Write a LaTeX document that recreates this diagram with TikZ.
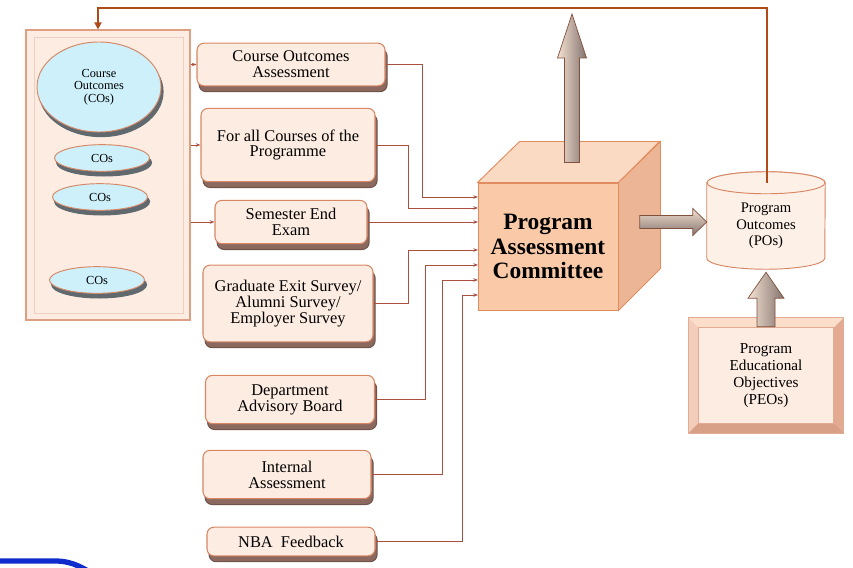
\documentclass[tikz,border=0pt]{standalone}
\usepackage{fontspec}
\setmainfont{Liberation Serif}
\usetikzlibrary{positioning,calc,shadows,arrows.meta,shapes.geometric}
\definecolor{BoxFill}{RGB}{253,236,225}
\definecolor{BoxEdge}{RGB}{215,135,100}
\definecolor{BoxShade}{RGB}{140,105,95}
\definecolor{LineRed}{RGB}{170,80,65}
\definecolor{TopLine}{RGB}{175,75,25}
\definecolor{CubeFront}{RGB}{250,202,168}
\definecolor{CubeTop}{RGB}{250,218,195}
\definecolor{CubeSide}{RGB}{236,182,150}
\definecolor{CubeEdge}{RGB}{225,140,95}
\definecolor{EllFill}{RGB}{205,240,250}
\definecolor{EllShade}{RGB}{95,105,110}
\definecolor{ArrowLight}{RGB}{245,225,210}
\definecolor{ArrowDark}{RGB}{130,115,110}
\definecolor{CylFill}{RGB}{253,240,230}
\definecolor{BevTop}{RGB}{250,222,202}
\definecolor{BevLeft}{RGB}{243,205,185}
\definecolor{BevRight}{RGB}{225,170,145}
\definecolor{BevBot}{RGB}{215,160,135}
\definecolor{NavyBlue}{RGB}{15,45,205}
\tikzset{
  abox/.style={draw=BoxEdge,fill=BoxFill,line width=0.9pt,rounded corners=6pt,align=center,inner sep=1pt,
    font=\fontsize{14}{13.5}\selectfont,
    copy shadow={shadow xshift=1.8pt,shadow yshift=-5pt,fill=BoxShade,draw=BoxShade!80!black}},
  cos/.style={ellipse,draw=BoxEdge,fill=EllFill,line width=0.8pt,inner sep=0pt,align=center,
    font=\fontsize{10.5}{10.5}\selectfont,
    copy shadow={shadow xshift=1.8pt,shadow yshift=-4pt,fill=EllShade,draw=EllShade}},
  feed/.style={draw=LineRed,line width=0.8pt,-{Stealth[length=4pt,width=3pt]}},
  fback/.style={draw=TopLine,line width=1.8pt,-{Triangle[length=6pt,width=6pt]}},
  blockarrow/.style={draw=BoxEdge!60!black,line width=0.6pt},
  cyl/.style={draw=BoxEdge,fill=CylFill,line width=0.8pt},
}
\tikzset{smallcos/.style={cos,minimum width=2.85cm,minimum height=0.8cm},
  peo/.style={draw=BoxEdge,fill=BoxFill,minimum width=4.65cm,minimum height=3.45cm,align=center,
    font=\fontsize{13}{14.5}\selectfont}}

\begin{document}
\begin{tikzpicture}[x=0.03cm,y=-0.03cm]
\useasboundingbox (0,0) rectangle (853,567);
% left panel with the COs
\node[draw=BoxEdge!80,fill=BoxFill,line width=1pt,minimum width=4.92cm,minimum height=8.7cm,inner sep=0pt] (panel) at (108,175) {};
\draw[white!60!BoxEdge,line width=1.2pt] ([xshift=0.27cm,yshift=-0.24cm]panel.north west) rectangle ([xshift=-0.21cm,yshift=0.21cm]panel.south east);
\node[cos,minimum width=3.72cm,minimum height=2.7cm] (co) at (99,87) {Course\\Outcomes\\(COs)};
\node[smallcos] (cos1) at (102,158) {COs};
\node[smallcos] (cos2) at (100,197) {COs};
\node[smallcos] (cos3) at (97,280) {COs};

% input boxes
\node[abox,minimum width=5.64cm,minimum height=1.28cm] (cao) at (291,64.5) {Course Outcomes\\Assessment};
\node[abox,minimum width=5.22cm,minimum height=2.2cm] (afc) at (288,145) {For all Courses of the\\Programme};
\node[abox,minimum width=4.56cm,minimum height=1.3cm] (see) at (291,222) {Semester End\\Exam};
\node[abox,minimum width=5.1cm,minimum height=2.3cm] (ges) at (288,303.5) {Graduate Exit Survey/\\Alumni Survey/\\Employer Survey};
\node[abox,minimum width=5.07cm,minimum height=1.45cm] (dab) at (290,399.5) {Department\\Advisory Board};
\node[abox,minimum width=5.04cm,minimum height=1.45cm] (ia) at (287,474.5) {Internal\\Assessment};
\node[abox,minimum width=5.04cm,minimum height=0.86cm] (nba) at (291,541.5) {NBA\ \ Feedback};

\draw[feed] (panel.east |- cao.west) -- (cao.west);
\draw[feed] (panel.east |- afc.west) -- (afc.west);
\draw[feed] (panel.east |- see.west) -- (see.west);

% committee cube
\node[draw=CubeEdge,fill=CubeFront,line width=0.8pt,minimum width=4.2cm,minimum height=3.81cm,align=center,
  font=\fontsize{20}{21}\selectfont\bfseries] (pac) at (548,246.5) {Program\\Assessment\\Committee};
\draw[draw=CubeEdge,fill=CubeTop,line width=0.8pt] (pac.north west) -- ++(42,-41) -- ++(140,0) -- (pac.north east) -- cycle;
\draw[draw=CubeEdge,fill=CubeSide,line width=0.8pt] (pac.north east) -- ++(42,-41) -- ++(0,127) -- (pac.south east) -- cycle;

\coordinate (e1) at (478,197);
\coordinate (e2) at (478,208);
\coordinate (e3) at (478,222);
\coordinate (e4) at (478,250);
\coordinate (e5) at (478,265);
\coordinate (e6) at (478,280);
\coordinate (e7) at (478,295);
\draw[feed] (cao.east) -| ([xshift=-1.68cm]e1) -- (e1);
\draw[feed] (afc.east) -| ([xshift=-2.1cm]e2) -- (e2);
\draw[feed] (see.east) -- (e3);
\draw[feed] (ges.east) -| ([xshift=-2.1cm]e4) -- (e4);
\draw[feed] (dab.east) -| ([xshift=-1.59cm]e5) -- (e5);
\draw[feed] (ia.east) -| ([xshift=-1.08cm]e6) -- (e6);
\draw[feed] (nba.east) -| ([xshift=-0.48cm]e7) -- (e7);

% up arrow out of the cube
\coordinate (upbase) at ($(pac.north)+(24,-20)$);
\coordinate (uptip) at (572,14);
\path[blockarrow,left color=ArrowLight,right color=ArrowDark] ($(upbase)+(-7.5,0)$) -- ($(uptip)+(-7.5,44)$) -- ($(uptip)+(-14.5,44)$) -- (uptip) -- ($(uptip)+(14.5,44)$) -- ($(uptip)+(7.5,44)$) -- ($(upbase)+(7.5,0)$) -- cycle;

% program outcomes
\node[minimum width=3.54cm,minimum height=2.88cm,inner sep=0pt] (po) at (766,222) {};
\draw[cyl] ($(po.north west)+(0,9)$) -- ($(po.south west)+(0,-12)$) arc[start angle=180,end angle=360,x radius=1.77cm,y radius=0.33cm] -- ($(po.north east)+(0,9)$) arc[start angle=0,end angle=180,x radius=1.77cm,y radius=0.33cm] -- cycle;
\draw[cyl] ($(po.north)+(0,9)$) ellipse[x radius=1.77cm,y radius=0.33cm];
\node[align=center,font=\fontsize{12.5}{14}\selectfont] at ($(po.center)+(0,4)$) {Program\\Outcomes\\(POs)};

\coordinate (rend) at (po.west);
\coordinate (rstart) at ($(po.west)+(-67,0)$);
\path[blockarrow,top color=ArrowLight,bottom color=ArrowDark] ($(rstart)+(0,-6.5)$) -- ($(rend)+(-14,-6.5)$) -- ($(rend)+(-14,-13.5)$) -- (rend) -- ($(rend)+(-14,13.5)$) -- ($(rend)+(-14,6.5)$) -- ($(rstart)+(0,6.5)$) -- cycle;

% feedback to the COs
\coordinate (potop) at ($(po.north)+(1,9)$);
\coordinate (fbc) at (98,8);
\draw[fback] (potop) |- (fbc) -- (fbc |- panel.north);

% PEOs
\node[peo] (peo) at (766,375.5) {Program\\Educational\\Objectives\\(PEOs)};
\fill[BevTop] (peo.north west) -- (peo.north east) -- ([xshift=-0.3cm,yshift=-0.3cm]peo.north east) -- ([xshift=0.3cm,yshift=-0.3cm]peo.north west) -- cycle;
\fill[BevLeft] (peo.north west) -- ([xshift=0.3cm,yshift=-0.3cm]peo.north west) -- ([xshift=0.3cm,yshift=0.3cm]peo.south west) -- (peo.south west) -- cycle;
\fill[BevRight] (peo.north east) -- ([xshift=-0.3cm,yshift=-0.3cm]peo.north east) -- ([xshift=-0.3cm,yshift=0.3cm]peo.south east) -- (peo.south east) -- cycle;
\fill[BevBot] (peo.south west) -- ([xshift=0.3cm,yshift=0.3cm]peo.south west) -- ([xshift=-0.3cm,yshift=0.3cm]peo.south east) -- (peo.south east) -- cycle;
\draw[BoxEdge!70,line width=0.6pt] (peo.north west) rectangle (peo.south east);
\draw[BoxEdge!70,line width=0.6pt] ([xshift=0.3cm,yshift=-0.3cm]peo.north west) rectangle ([xshift=-0.3cm,yshift=0.3cm]peo.south east);

\coordinate (pbase) at ($(peo.north)+(0,9)$);
\coordinate (ptip) at ($(po.south)+(0,2)$);
\path[blockarrow,left color=ArrowLight,right color=ArrowDark] ($(pbase)+(-9,0)$) -- ($(ptip)+(-9,26)$) -- ($(ptip)+(-18,26)$) -- (ptip) -- ($(ptip)+(18,26)$) -- ($(ptip)+(9,26)$) -- ($(pbase)+(9,0)$) -- cycle;

% blue stroke at the corner
\draw[NavyBlue,line width=4.5pt] (-5,561) -- (55,561) to[out=0,in=150] (100,578);
\end{tikzpicture}
\end{document}
